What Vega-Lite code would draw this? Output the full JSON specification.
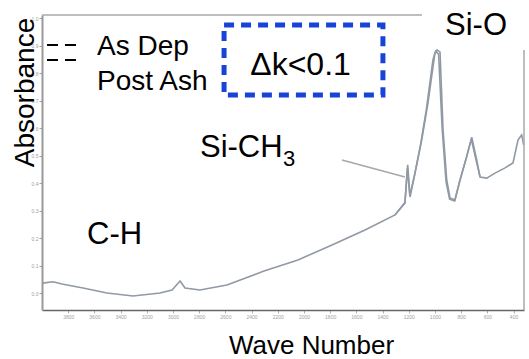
{
  "$schema": "https://vega.github.io/schema/vega-lite/v6.json",
  "width": 482,
  "height": 295,
  "autosize": {"type": "none"},
  "padding": {"left": 42, "top": 15, "right": 5, "bottom": 49},
  "background": "white",
  "config": {"view": {"stroke": null}, "font": "Liberation Sans", "axis": {"labelOverlap": false}},
  "datasets": {
    "spectrum": [
      {"series": "As Dep", "wn": 3995, "abs": 0.037},
      {"series": "As Dep", "wn": 3916, "abs": 0.042},
      {"series": "As Dep", "wn": 3847, "abs": 0.034},
      {"series": "As Dep", "wn": 3687, "abs": 0.019},
      {"series": "As Dep", "wn": 3504, "abs": 0.001},
      {"series": "As Dep", "wn": 3305, "abs": -0.010},
      {"series": "As Dep", "wn": 3099, "abs": 0.001},
      {"series": "As Dep", "wn": 3007, "abs": 0.012},
      {"series": "As Dep", "wn": 2946, "abs": 0.045},
      {"series": "As Dep", "wn": 2908, "abs": 0.019},
      {"series": "As Dep", "wn": 2794, "abs": 0.012},
      {"series": "As Dep", "wn": 2588, "abs": 0.030},
      {"series": "As Dep", "wn": 2305, "abs": 0.081},
      {"series": "As Dep", "wn": 2046, "abs": 0.121},
      {"series": "As Dep", "wn": 1786, "abs": 0.176},
      {"series": "As Dep", "wn": 1534, "abs": 0.230},
      {"series": "As Dep", "wn": 1305, "abs": 0.285},
      {"series": "As Dep", "wn": 1229, "abs": 0.328},
      {"series": "As Dep", "wn": 1208, "abs": 0.467},
      {"series": "As Dep", "wn": 1190, "abs": 0.350},
      {"series": "As Dep", "wn": 1152, "abs": 0.437},
      {"series": "As Dep", "wn": 1101, "abs": 0.557},
      {"series": "As Dep", "wn": 1053, "abs": 0.692},
      {"series": "As Dep", "wn": 1000, "abs": 0.874},
      {"series": "As Dep", "wn": 984, "abs": 0.885},
      {"series": "As Dep", "wn": 961, "abs": 0.877},
      {"series": "As Dep", "wn": 938, "abs": 0.594},
      {"series": "As Dep", "wn": 910, "abs": 0.412},
      {"series": "As Dep", "wn": 885, "abs": 0.347},
      {"series": "As Dep", "wn": 847, "abs": 0.339},
      {"series": "As Dep", "wn": 809, "abs": 0.412},
      {"series": "As Dep", "wn": 758, "abs": 0.496},
      {"series": "As Dep", "wn": 719, "abs": 0.568},
      {"series": "As Dep", "wn": 681, "abs": 0.485},
      {"series": "As Dep", "wn": 656, "abs": 0.423},
      {"series": "As Dep", "wn": 605, "abs": 0.419},
      {"series": "As Dep", "wn": 541, "abs": 0.437},
      {"series": "As Dep", "wn": 465, "abs": 0.456},
      {"series": "As Dep", "wn": 404, "abs": 0.474},
      {"series": "As Dep", "wn": 366, "abs": 0.557},
      {"series": "As Dep", "wn": 338, "abs": 0.576},
      {"series": "As Dep", "wn": 322, "abs": 0.539},
      {"series": "Post Ash", "wn": 1305, "abs": 0.285},
      {"series": "Post Ash", "wn": 1229, "abs": 0.330},
      {"series": "Post Ash", "wn": 1210, "abs": 0.455},
      {"series": "Post Ash", "wn": 1192, "abs": 0.355},
      {"series": "Post Ash", "wn": 1156, "abs": 0.430},
      {"series": "Post Ash", "wn": 1110, "abs": 0.540},
      {"series": "Post Ash", "wn": 1065, "abs": 0.670},
      {"series": "Post Ash", "wn": 1015, "abs": 0.850},
      {"series": "Post Ash", "wn": 995, "abs": 0.880},
      {"series": "Post Ash", "wn": 972, "abs": 0.870},
      {"series": "Post Ash", "wn": 945, "abs": 0.600},
      {"series": "Post Ash", "wn": 915, "abs": 0.405},
      {"series": "Post Ash", "wn": 888, "abs": 0.342},
      {"series": "Post Ash", "wn": 850, "abs": 0.336},
      {"series": "Post Ash", "wn": 812, "abs": 0.405},
      {"series": "Post Ash", "wn": 762, "abs": 0.490},
      {"series": "Post Ash", "wn": 722, "abs": 0.560},
      {"series": "Post Ash", "wn": 684, "abs": 0.480},
      {"series": "Post Ash", "wn": 656, "abs": 0.425}
    ],
    "frame": [
      {"part": "top", "wn": 4000, "wn2": 1099, "abs": 1.012, "abs2": 1.012},
      {"part": "right", "wn": 320, "wn2": 320, "abs": -0.0607, "abs2": 0.885},
      {"part": "leader", "wn": 1710, "wn2": 1229, "abs": 0.485, "abs2": 0.423}
    ],
    "legendDashes": [
      {"series": "As Dep", "wn": 3962, "wn2": 3733, "abs": 0.903},
      {"series": "Post Ash", "wn": 3962, "wn2": 3733, "abs": 0.8484}
    ],
    "legendText": [
      {"label": "As Dep", "wn": 3580, "abs": 0.8665},
      {"label": "Post Ash", "wn": 3580, "abs": 0.739}
    ],
    "box": [
      {"wn": 2610, "wn2": 1397, "abs": 0.9756, "abs2": 0.7207}
    ],
    "boxText": [
      {"label": "Δk<0.1", "wn": 2026, "abs": 0.794}
    ],
    "peakLabels": [
      {"label": "Si-O", "wn": 923, "abs": 0.939},
      {"label": "Si-CH", "wn": 2794, "abs": 0.4956},
      {"label": "C-H", "wn": 3656, "abs": 0.179}
    ],
    "subscript": [
      {"label": "3", "wn": 2160, "abs": 0.463}
    ]
  },
  "layer": [
    {
      "data": {"name": "spectrum"},
      "mark": {"type": "line", "color": "#9099a4", "strokeWidth": 1.6, "clip": false},
      "encoding": {
        "x": {
          "field": "wn", "type": "quantitative",
          "scale": {"domain": [320, 4000], "reverse": true, "nice": false, "zero": false},
          "axis": {
            "title": "Wave Number", "titleFont": "Liberation Sans", "titleFontSize": 26,
            "titleFontWeight": "normal", "titleColor": "#000000",
            "titleX": 269, "titleY": 43, "titleAlign": "center", "titleBaseline": "alphabetic",
            "values": [3800, 3600, 3400, 3200, 3000, 2800, 2600, 2400, 2200, 2000, 1800, 1600, 1400, 1200, 1000, 800, 600, 400],
            "tickCount": 40,
            "format": "d", "labelOverlap": false, "labelBound": false,
            "labelFontSize": 5, "labelColor": "#a0a0a0", "labelPadding": 1,
            "tickColor": "#b0b0b0", "tickSize": 3,
            "domainColor": "#666666", "domainWidth": 1.5, "grid": false
          }
        },
        "y": {
          "field": "abs", "type": "quantitative",
          "scale": {"domain": [-0.0607, 1.012], "nice": false, "zero": false},
          "axis": {
            "title": "Absorbance", "titleFont": "Liberation Sans", "titleFontSize": 28,
            "titleFontWeight": "normal", "titleColor": "#000000", "titleAngle": -90,
            "titleX": -9, "titleY": 77, "titleAlign": "center", "titleBaseline": "alphabetic",
            "values": [0, 0.1, 0.2, 0.3, 0.4, 0.5, 0.6, 0.7, 0.8, 0.9, 1.0],
            "tickCount": 30, "format": ".1f",
            "labelOverlap": false,
            "labelFontSize": 5, "labelColor": "#a0a0a0", "labelPadding": 1,
            "tickColor": "#a0a0a0", "tickSize": 3,
            "domainColor": "#999999", "domainWidth": 2, "grid": false
          }
        },
        "detail": {"field": "series", "type": "nominal"}
      }
    },
    {
      "data": {"name": "frame"},
      "mark": {"type": "rule", "color": "#a8a8a8", "strokeWidth": 1.5, "clip": false},
      "encoding": {
        "x": {"field": "wn", "type": "quantitative"},
        "x2": {"field": "wn2"},
        "y": {"field": "abs", "type": "quantitative"},
        "y2": {"field": "abs2"}
      }
    },
    {
      "data": {"name": "legendDashes"},
      "mark": {"type": "rule", "color": "#000000", "strokeWidth": 2, "strokeDash": [11, 7]},
      "encoding": {
        "x": {"field": "wn", "type": "quantitative"},
        "x2": {"field": "wn2"},
        "y": {"field": "abs", "type": "quantitative"}
      }
    },
    {
      "data": {"name": "legendText"},
      "mark": {"type": "text", "font": "Liberation Sans", "fontSize": 28, "align": "left", "baseline": "alphabetic", "color": "#000000"},
      "encoding": {
        "x": {"field": "wn", "type": "quantitative"},
        "y": {"field": "abs", "type": "quantitative"},
        "text": {"field": "label"}
      }
    },
    {
      "data": {"name": "box"},
      "mark": {"type": "rect", "fill": "white", "fillOpacity": 0, "stroke": "#1744d6", "strokeWidth": 5, "strokeDash": [10, 7]},
      "encoding": {
        "x": {"field": "wn", "type": "quantitative"},
        "x2": {"field": "wn2"},
        "y": {"field": "abs", "type": "quantitative"},
        "y2": {"field": "abs2"}
      }
    },
    {
      "data": {"name": "boxText"},
      "mark": {"type": "text", "font": "Liberation Sans", "fontSize": 32, "align": "center", "baseline": "alphabetic", "color": "#000000"},
      "encoding": {
        "x": {"field": "wn", "type": "quantitative"},
        "y": {"field": "abs", "type": "quantitative"},
        "text": {"field": "label"}
      }
    },
    {
      "data": {"name": "peakLabels"},
      "mark": {"type": "text", "font": "Liberation Sans", "fontSize": 31, "align": "left", "baseline": "alphabetic", "color": "#000000"},
      "encoding": {
        "x": {"field": "wn", "type": "quantitative"},
        "y": {"field": "abs", "type": "quantitative"},
        "text": {"field": "label"}
      }
    },
    {
      "data": {"name": "subscript"},
      "mark": {"type": "text", "font": "Liberation Sans", "fontSize": 22, "align": "left", "baseline": "alphabetic", "color": "#000000"},
      "encoding": {
        "x": {"field": "wn", "type": "quantitative"},
        "y": {"field": "abs", "type": "quantitative"},
        "text": {"field": "label"}
      }
    }
  ]
}
